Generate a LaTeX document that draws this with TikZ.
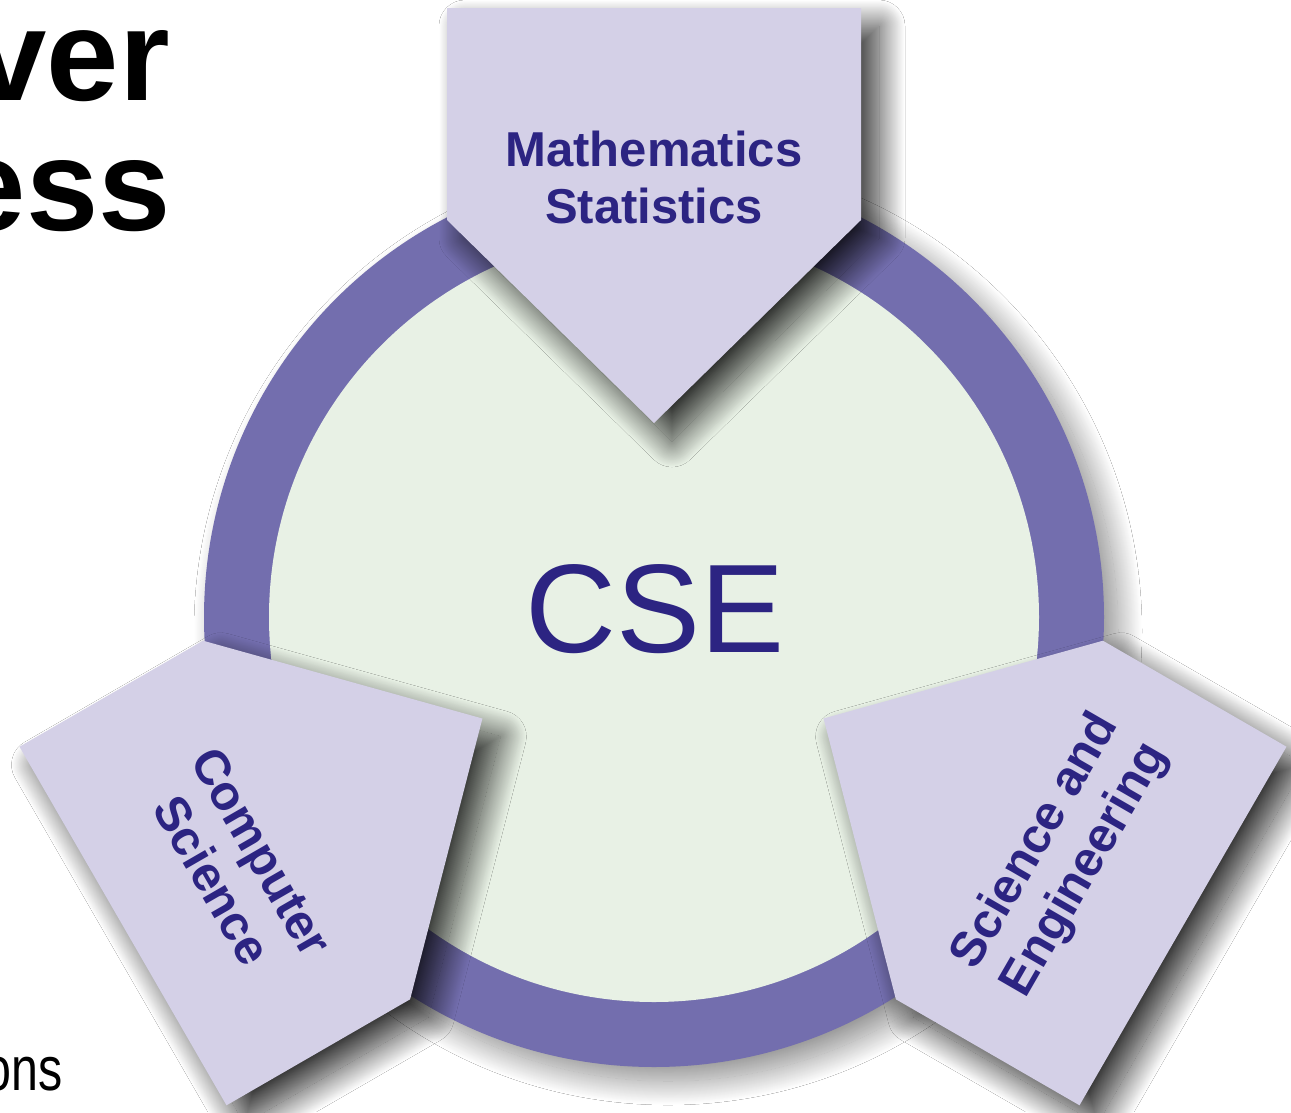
\documentclass[tikz,border=0pt]{standalone}
\usepackage{fontspec}
\setmainfont{Liberation Sans}
\usetikzlibrary{shadows.blur}
\definecolor{ringc}{HTML}{736EAE}
\definecolor{pentc}{HTML}{D4D0E7}
\definecolor{innerc}{HTML}{E8F1E5}
\definecolor{txtc}{HTML}{2C2482}
\begin{document}
\begin{tikzpicture}[x=1pt,y=-1pt,
  pentshape/.style={fill=pentc, blur shadow={shadow xshift=18pt, shadow yshift=-18pt, shadow blur radius=26pt, shadow opacity=80, shadow blur steps=50}},
  ringshape/.style={fill=ringc, blur shadow={shadow xshift=14pt, shadow yshift=-14pt, shadow blur radius=24pt, shadow opacity=45, shadow blur steps=50}},
  lab/.style={font=\fontsize{49}{57}\selectfont\bfseries, text=txtc, align=center, inner sep=0pt},
  titlefrag/.style={anchor=base east, inner sep=0pt, text=black, font=\fontsize{130}{130}\selectfont\bfseries}]
\useasboundingbox (0,0) rectangle (1291,1112);
\fill[white] (0,0) rectangle (1291,1112);
% title fragments
\node[titlefrag] (t1) at (170,100) {ver};
\node[titlefrag] (t2) at (171,230) {ess};
\node[anchor=base east, inner sep=0pt, text=black, xscale=0.78, font=\fontsize{62}{62}\selectfont] (t3) at (63,1090) {ons};
% ring and inner disc
\path[ringshape] (654,617) circle[radius=450];
\fill[innerc] (654,617) circle[radius=385];
\node[inner sep=0pt, anchor=base, text=txtc, font=\fontsize{126}{126}\selectfont] (cse) at (655,652) {CSE};
% pentagons
\path[pentshape] (654,423) -- (447,220) -- (447,8) -- (861,8) -- (861,220) -- cycle;
\path[pentshape] (482.4,718.5) -- (410.1,999.3) -- (226.5,1105.3) -- (19.5,746.7) -- (203.1,640.7) -- cycle;
\path[pentshape] (823.6,718.5) -- (1102.9,640.7) -- (1286.5,746.7) -- (1079.5,1105.3) -- (895.9,999.3) -- cycle;
% labels
\node[lab] (math) at (654,177) {Mathematics\\Statistics};
\node[lab, rotate=-60] (cs) at (237,866) {Computer\\Science};
\node[lab, rotate=60] (se) at (1061,856) {Science and\\Engineering};
\end{tikzpicture}
\end{document}
